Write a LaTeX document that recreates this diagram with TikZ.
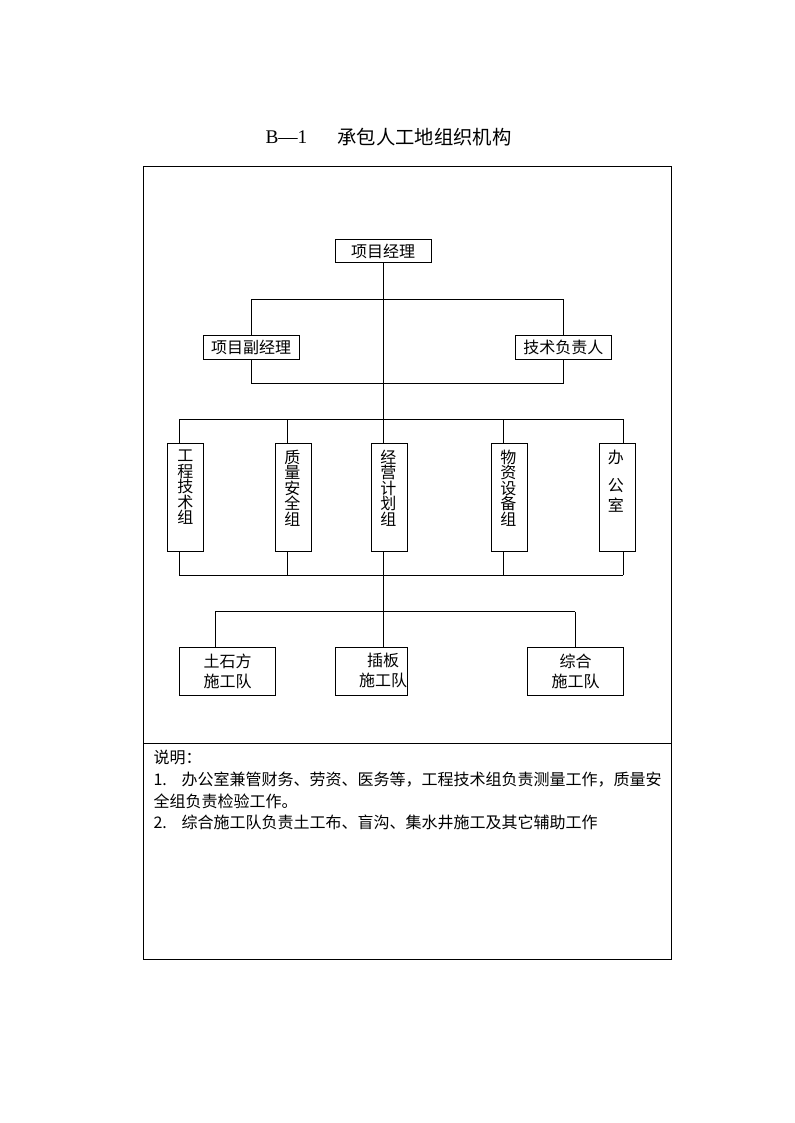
\documentclass[tikz,border=0pt]{standalone}
\usepackage{fontspec}
\setmainfont{Liberation Serif}
\newfontfamily\cjk{Noto Sans CJK SC}
\begin{document}
\begin{tikzpicture}[x=0.75pt,y=-0.75pt,line width=0.75pt,
  box/.style={draw,inner sep=0pt,font=\cjk\fontsize{12}{15}\selectfont,align=center},
  wbox/.style={box,minimum width=72pt,minimum height=17.8pt},
  gbox/.style={draw,inner sep=0pt,minimum width=27pt,minimum height=81.2pt},
  tbox/.style={box,minimum height=36pt},
  vtext/.style={inner sep=0pt,anchor=north,align=center,font=\cjk\fontsize{12}{11.6}\selectfont},
  note/.style={inner sep=0pt,anchor=west,font=\cjk\fontsize{12}{14}\selectfont}]
\useasboundingbox (0,0) rectangle (794,1123);

% title
\node[inner sep=0pt,anchor=west,font=\fontsize{14.5}{16}\selectfont] (tB) at (265,137) {B—1};
\node[inner sep=0pt,anchor=west,font=\cjk\fontsize{14.5}{16}\selectfont] (tT) at (337,137) {承包人工地组织机构};

% frame
\draw (143,167) rectangle (671,959);
\draw (143,743) -- (671,743);

% top level
\node[wbox] (pm) at (383,251) {项目经理};
\node[wbox] (vpm) at (251.2,347.6) {项目副经理};
\node[wbox] (tech) at (563.3,347.6) {技术负责人};

% groups
\node[gbox] (g1) at (185.3,497.5) {};
\node[gbox] (g2) at (293.7,497.5) {};
\node[gbox] (g3) at (389.7,497.5) {};
\node[gbox] (g4) at (509.7,497.5) {};
\node[gbox] (g5) at (617.2,497.5) {};
\node[vtext] (g1t) at ([yshift=-5pt]g1.north) {工\\程\\技\\术\\组};
\node[vtext] (g2t) at ([yshift=-5pt,xshift=-1pt]g2.north) {质\\量\\安\\全\\组};
\node[vtext] (g3t) at ([yshift=-5pt,xshift=-1pt]g3.north) {经\\营\\计\\划\\组};
\node[vtext] (g4t) at ([yshift=-5pt,xshift=-1pt]g4.north) {物\\资\\设\\备\\组};
\node[vtext] (g5t) at ([yshift=-5pt,xshift=-1pt]g5.north) {办\\[9.4pt]公\\[3.4pt]室};

% teams
\node[tbox,minimum width=72.3pt] (t1) at (227.5,671.7) {土石方\\施工队};
\node[tbox,minimum width=54pt] (t2) at (371.7,671.7) {};
\node[box,draw=none] (t2t) at (383,670.5) {插板\\施工队};
\node[tbox,minimum width=71.7pt] (t3) at (575.5,671.7) {综合\\施工队};

% bus coordinates
\coordinate (ub) at (383,299.3);
\coordinate (lb) at (383,383.3);
\coordinate (d1) at (179.3,419.3);
\coordinate (d2) at (287.7,419.3);
\coordinate (d3) at (383,419.3);
\coordinate (d4) at (503.3,419.3);
\coordinate (d5) at (623.3,419.3);
\coordinate (e1) at (179.3,575);
\coordinate (e2) at (287.7,575);
\coordinate (e4) at (503.3,575);
\coordinate (e5) at (623.3,575);
\coordinate (f1) at (215,611.7);
\coordinate (f3) at (575,611.7);

% spine
\draw (pm.south) -- (pm.south |- g3.north);
\draw (pm.south |- g3.south) -- (pm.south |- t2.north);

% deputy / tech loops
\draw (vpm.north) -- (vpm.north |- ub) -- (tech.north |- ub) -- (tech.north);
\draw (vpm.south) -- (vpm.south |- lb) -- (tech.south |- lb) -- (tech.south);

% group buses
\draw (d1) -- (d5);
\draw (d1) -- (d1 |- g1.north);
\draw (d2) -- (d2 |- g2.north);
\draw (d4) -- (d4 |- g4.north);
\draw (d5) -- (d5 |- g5.north);
\draw (e1) -- (e5);
\draw (e1) -- (e1 |- g1.south);
\draw (e2) -- (e2 |- g2.south);
\draw (e4) -- (e4 |- g4.south);
\draw (e5) -- (e5 |- g5.south);

% team bus
\draw (f1) -- (f3);
\draw (f1) -- (f1 |- t1.north);
\draw (f3) -- (f3 |- t3.north);

% notes
\node[note] (n0) at (153,757) {说明：};
\node[note] (n1) at (153,780) {\makebox[21pt][l]{1.}办公室兼管财务、劳资、医务等，工程技术组负责测量工作，质量安};
\node[note] (n2) at (153,801) {全组负责检验工作。};
\node[note] (n3) at (153,822) {\makebox[21pt][l]{2.}综合施工队负责土工布、盲沟、集水井施工及其它辅助工作};
\end{tikzpicture}
\end{document}
